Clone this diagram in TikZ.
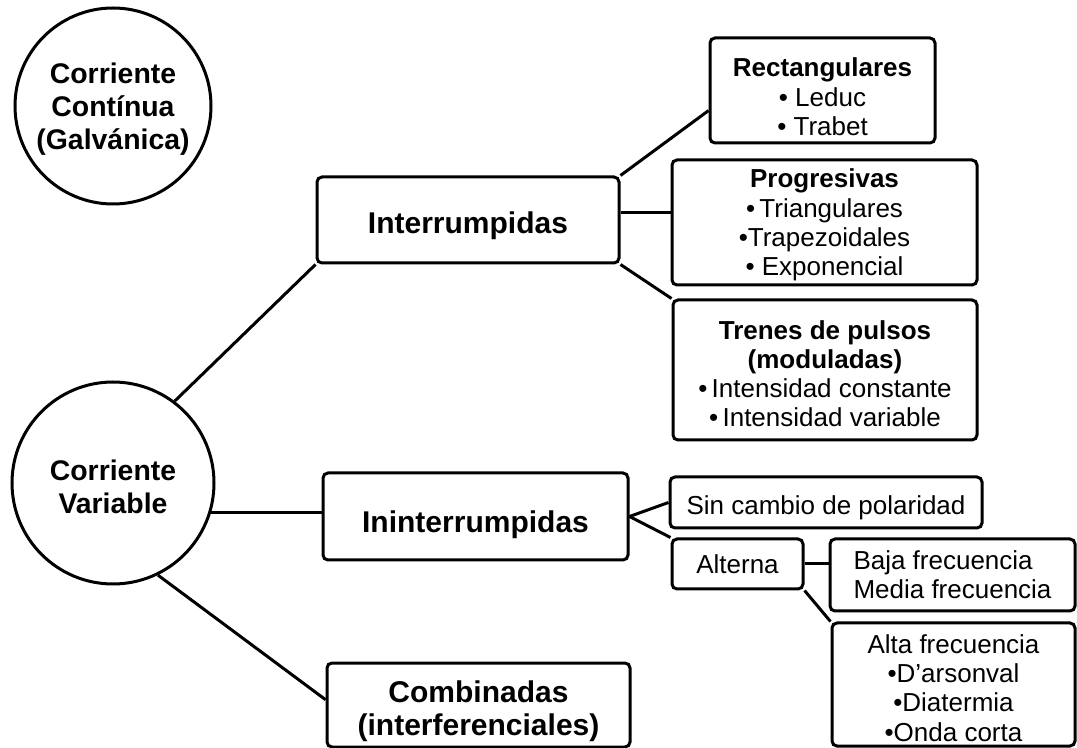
\documentclass[tikz,border=0pt]{standalone}
\usepackage{fontspec}
\setmainfont{Liberation Sans}
\usepackage{tikz}

\newcommand{\bajar}[1]{\rule{0pt}{#1}}

\begin{document}
\begin{tikzpicture}[x=0.5pt, y=-0.5pt, line width=1.5pt,
  caja/.style={draw, rounded corners=2.5pt, inner sep=0pt, align=center},
  circulo/.style={draw, circle, inner sep=0pt, align=center, font=\fontsize{14.2}{16.3}\selectfont\bfseries},
  grande/.style={font=\fontsize{15}{16.5}\selectfont\bfseries},
  chica/.style={font=\fontsize{13}{14.6}\selectfont}]
\useasboundingbox (0,0) rectangle (1077,748);

\node [circulo, minimum size=98pt] (cont) at (113,106) {\bajar{13.4pt}Corriente\\Contínua\\(Galvánica)};
\node [circulo, minimum size=101pt] (var) at (113,483) {\bajar{14.4pt}Corriente\\Variable};

\node [caja, grande, minimum width=151pt, minimum height=43pt] (int) at (468,220) {\bajar{17pt}Interrumpidas};
\node [caja, grande, minimum width=152.5pt, minimum height=43.5pt] (inint) at (475.5,516.5) {\bajar{19.5pt}Ininterrumpidas};
\node [caja, grande, minimum width=151.5pt, minimum height=42pt] (comb) at (478.5,705) {\bajar{17.5pt}Combinadas\\(interferenciales)};

\node [caja, chica, minimum width=112.5pt, minimum height=52.5pt] (rect) at (822.5,90.5) {\bajar{15.8pt}\textbf{Rectangulares}\\• Leduc\\• Trabet};
\node [caja, chica, minimum width=152.5pt, minimum height=62.5pt] (prog) at (824.5,222.5) {\bajar{12pt}\textbf{Progresivas}\\•\,Triangulares\\•Trapezoidales\\• Exponencial};
\node [caja, chica, minimum width=152pt, minimum height=70pt] (tren) at (825,370) {\bajar{13pt}\textbf{Trenes de pulsos}\\\textbf{(moduladas)}\\•\,Intensidad constante\\•\,Intensidad variable};

\node [caja, chica, minimum width=156pt, minimum height=25.5pt] (sin) at (826,502.5) {\bajar{14.5pt}Sin cambio de polaridad};
\node [caja, chica, minimum width=65.5pt, minimum height=25pt] (alt) at (737.5,564) {Alterna};
\node [caja, chica, align=left, minimum width=122.5pt, minimum height=36pt] (baja) at (952.5,575) {Baja frecuencia\\Media frecuencia};
\node [caja, chica, minimum width=121.5pt, minimum height=61.5pt] (alta) at (953.5,684.5) {\bajar{13pt}Alta frecuencia\\•D’arsonval\\•Diatermia\\•Onda corta};

\draw (var.53) -- (int.south west);
\draw (var.-17) -- (var.-17 -| inint.west);
\draw (var.-64) -- (comb.178);

\draw (int.north east) -- (rect.190);
\draw (int.3) -- (int.3 -| prog.west);
\draw (int.south east) -- (tren.north west);

\draw (inint.east) -- (sin.west);
\draw (inint.east) -- (alt.north west);
\draw (alt.east) -- (alt.east -| baja.west);
\draw (alt.south east) -- (alta.north west);

\end{tikzpicture}
\end{document}
